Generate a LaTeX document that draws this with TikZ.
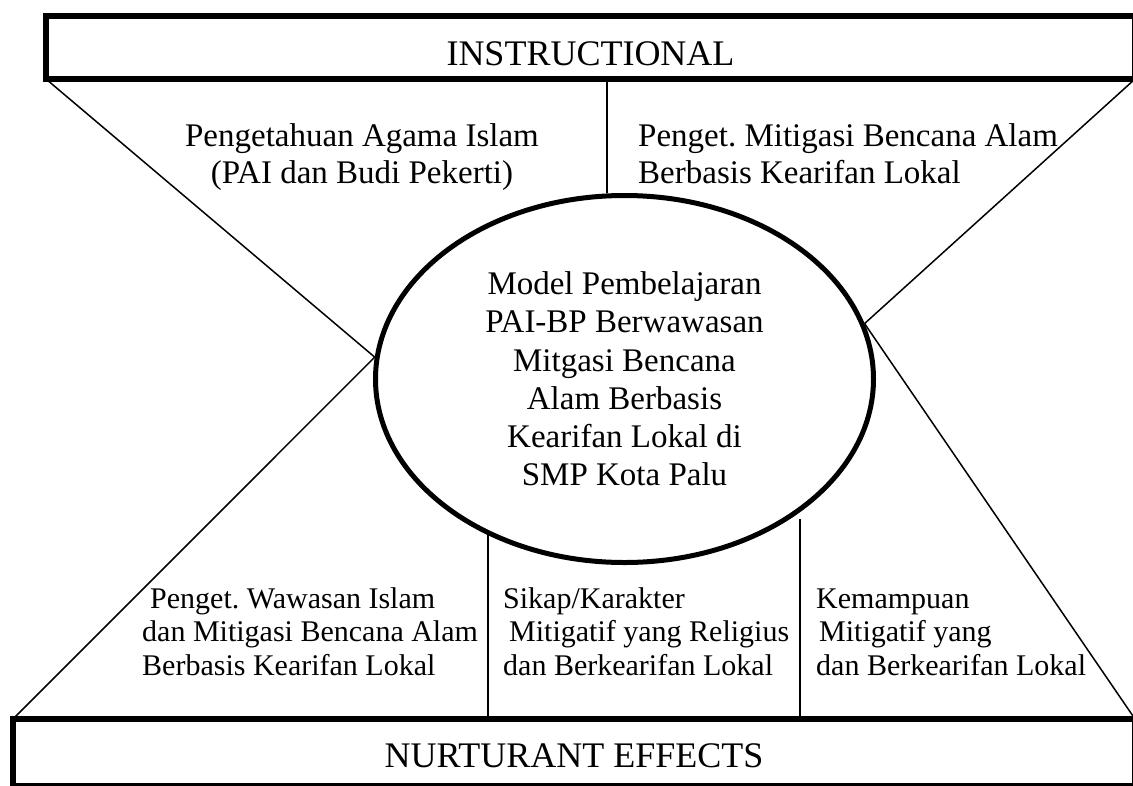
\documentclass[tikz,border=0pt]{standalone}
\usepackage{fontspec}
\setmainfont{Liberation Serif}
\usepackage{tikz}
\usetikzlibrary{shapes.geometric}
\frenchspacing

\begin{document}
\begin{tikzpicture}[x=1pt, y=-1pt]
    % Define the style for the nodes
    \tikzstyle{band} = [rectangle, draw, line width=6pt, inner sep=0pt, outer sep=0pt, font=\fontsize{36}{40}\selectfont]
    \tikzstyle{hub} = [ellipse, draw, line width=5pt, minimum width=498pt, minimum height=367pt, inner sep=0pt, align=center, font=\fontsize{33}{38.2}\selectfont]
    \tikzstyle{upper} = [inner sep=0pt, font=\fontsize{33}{37}\selectfont]
    \tikzstyle{lower} = [inner sep=0pt, align=left, font=\fontsize{30}{33.5}\selectfont]
    \tikzstyle{line} = [draw, line width=1.5pt]

    \useasboundingbox (0,0) rectangle (1133,785);

    % Place the nodes
    \node [band, minimum width=1089pt, minimum height=63pt, text height=36pt] (instr) at (590.5,47.5) {INSTRUCTIONAL};
    \node [band, minimum width=1122pt, minimum height=67pt, text height=30pt] (nurtur) at (574,752.5) {NURTURANT EFFECTS};
    \node [hub] (model) at (624.5,379) {Model Pembelajaran\\PAI-BP Berwawasan\\Mitgasi Bencana\\Alam Berbasis\\Kearifan Lokal di\\SMP Kota Palu};

    \node [upper, align=center, anchor=base] (pai) at (362,183) {Pengetahuan Agama Islam\\(PAI dan Budi Pekerti)};
    \node [upper, align=left, anchor=base west] (mitigasi) at (638,183) {Penget. Mitigasi Bencana Alam\\Berbasis Kearifan Lokal};
    \node [lower, anchor=base west] (wawasan) at (142,675) {\hspace*{8pt}Penget. Wawasan Islam\\dan Mitigasi Bencana Alam\\Berbasis Kearifan Lokal};
    \node [lower, anchor=base west] (sikap) at (503,675) {Sikap/Karakter\\\hspace*{6pt}Mitigatif yang Religius\\dan Berkearifan Lokal};
    \node [lower, anchor=base west] (mampu) at (816,675) {Kemampuan\\\hspace*{3pt}Mitigatif yang\\dan Berkearifan Lokal};

    % Split points on the bands
    \coordinate (topcut) at (607,79);
    \coordinate (lowcutA) at (488,719);
    \coordinate (lowcutB) at (800,719);

    % Connect the nodes with paths
    \path [line] (instr.south west) -- (model.175);
    \path [line] (instr.south east) -- (model.13);
    \path [line] (model.175) -- (nurtur.north west);
    \path [line] (model.13) -- (nurtur.north east);
    \path [line] (topcut) -- (topcut |- model.north);
    \path [line] (lowcutA) -- (lowcutA |- model.229);
    \path [line] (lowcutB) -- (lowcutB |- model.320);

\end{tikzpicture}
\end{document}
